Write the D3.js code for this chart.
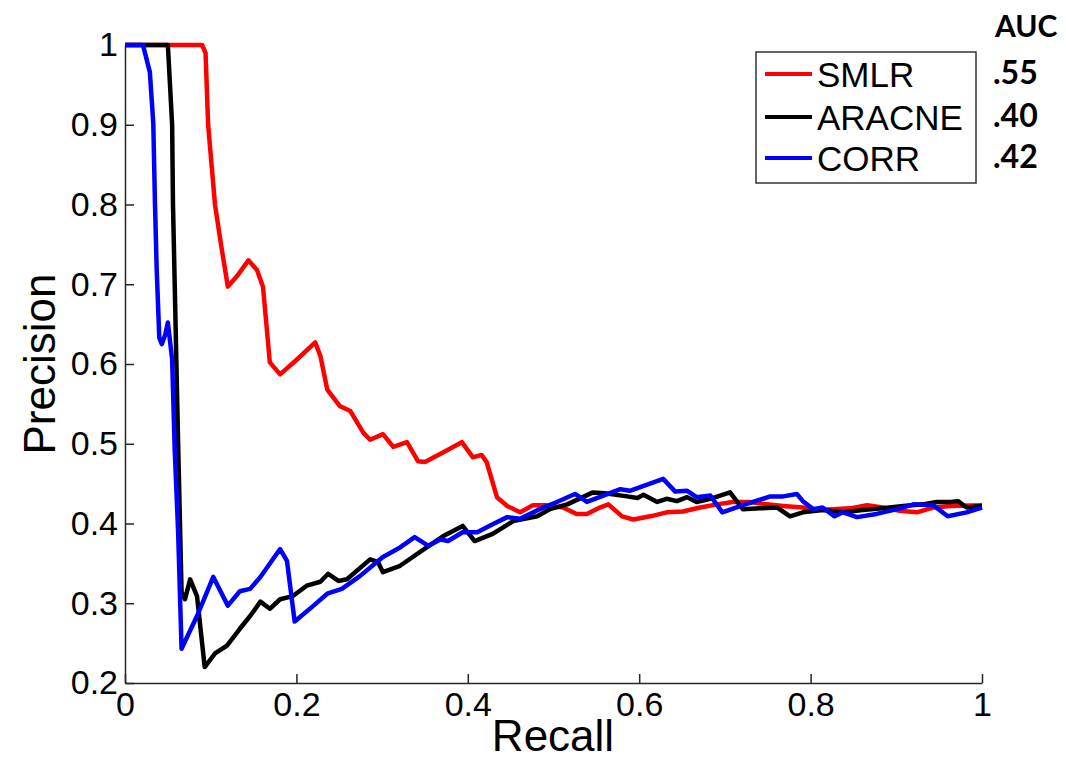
<!DOCTYPE html>
<html>
<head>
<meta charset="utf-8">
<script src="https://cdn.jsdelivr.net/npm/d3@7"></script>
<style>
  body { margin: 0; background: #fff; }
  svg { display: block; }
  .eixo text { font-family: "Liberation Sans", Arial, sans-serif; font-size: 34px; fill: #000; }
  .eixo path, .eixo line { stroke: #262626; stroke-width: 1.5; }
</style>
</head>
<body>
<svg width="1066" height="760"></svg>
<script>
// Curvas precision-recall
var smlrRecall = [0, 0.090, 0.094, 0.097, 0.105, 0.112, 0.120, 0.132, 0.144, 0.154, 0.161, 0.169, 0.181, 0.200, 0.222, 0.228, 0.236, 0.251, 0.263, 0.278, 0.286, 0.301, 0.313, 0.329, 0.342, 0.350, 0.371, 0.393, 0.406, 0.416, 0.422, 0.434, 0.446, 0.461, 0.476, 0.492, 0.511, 0.527, 0.539, 0.554, 0.564, 0.580, 0.593, 0.613, 0.632, 0.651, 0.671, 0.691, 0.709, 0.729, 0.749, 0.768, 0.791, 0.807, 0.826, 0.846, 0.866, 0.884, 0.904, 0.924, 0.943, 0.963, 1.0];
var smlrPrecision = [1, 1, 0.99, 0.90, 0.80, 0.75, 0.697, 0.712, 0.730, 0.718, 0.697, 0.602, 0.587, 0.605, 0.627, 0.610, 0.568, 0.547, 0.541, 0.514, 0.505, 0.512, 0.496, 0.502, 0.478, 0.477, 0.489, 0.502, 0.483, 0.486, 0.477, 0.433, 0.422, 0.414, 0.423, 0.423, 0.420, 0.412, 0.412, 0.420, 0.424, 0.409, 0.405, 0.409, 0.414, 0.415, 0.420, 0.424, 0.427, 0.427, 0.424, 0.422, 0.420, 0.417, 0.418, 0.419, 0.423, 0.420, 0.416, 0.414, 0.420, 0.422, 0.423];

var aracneRecall = [0, 0.050, 0.055, 0.056, 0.058, 0.062, 0.066, 0.070, 0.076, 0.084, 0.093, 0.105, 0.119, 0.134, 0.146, 0.158, 0.169, 0.181, 0.196, 0.212, 0.228, 0.237, 0.249, 0.259, 0.286, 0.295, 0.301, 0.321, 0.352, 0.371, 0.394, 0.408, 0.429, 0.453, 0.481, 0.496, 0.516, 0.546, 0.560, 0.586, 0.598, 0.605, 0.621, 0.632, 0.644, 0.656, 0.667, 0.683, 0.706, 0.721, 0.741, 0.761, 0.776, 0.791, 0.814, 0.838, 0.861, 0.884, 0.908, 0.931, 0.947, 0.963, 0.972, 0.982, 1.0];
var aracnePrecision = [1, 1, 0.90, 0.80, 0.70, 0.50, 0.314, 0.305, 0.330, 0.309, 0.220, 0.237, 0.247, 0.268, 0.284, 0.302, 0.293, 0.305, 0.309, 0.322, 0.327, 0.337, 0.328, 0.330, 0.355, 0.352, 0.339, 0.347, 0.370, 0.384, 0.397, 0.378, 0.387, 0.403, 0.409, 0.418, 0.424, 0.439, 0.438, 0.434, 0.432, 0.436, 0.427, 0.431, 0.428, 0.433, 0.427, 0.431, 0.439, 0.418, 0.419, 0.420, 0.409, 0.414, 0.417, 0.414, 0.417, 0.419, 0.422, 0.424, 0.427, 0.427, 0.428, 0.420, 0.422];

var corrRecall = [0, 0.021, 0.029, 0.033, 0.035, 0.037, 0.040, 0.043, 0.047, 0.050, 0.055, 0.058, 0.062, 0.066, 0.084, 0.103, 0.120, 0.134, 0.146, 0.158, 0.181, 0.189, 0.198, 0.220, 0.236, 0.253, 0.274, 0.301, 0.321, 0.338, 0.354, 0.368, 0.377, 0.394, 0.411, 0.429, 0.446, 0.461, 0.484, 0.504, 0.525, 0.539, 0.578, 0.589, 0.628, 0.642, 0.656, 0.667, 0.683, 0.697, 0.721, 0.753, 0.768, 0.784, 0.791, 0.803, 0.814, 0.828, 0.838, 0.854, 0.877, 0.901, 0.920, 0.943, 0.960, 0.982, 1.0];
var corrPrecision = [1, 1, 0.966, 0.902, 0.80, 0.718, 0.633, 0.625, 0.637, 0.652, 0.606, 0.493, 0.389, 0.243, 0.284, 0.333, 0.297, 0.315, 0.318, 0.333, 0.368, 0.353, 0.277, 0.297, 0.312, 0.318, 0.334, 0.358, 0.370, 0.383, 0.372, 0.380, 0.378, 0.389, 0.389, 0.399, 0.408, 0.406, 0.418, 0.427, 0.437, 0.427, 0.443, 0.441, 0.456, 0.440, 0.441, 0.433, 0.435, 0.414, 0.423, 0.434, 0.434, 0.437, 0.428, 0.418, 0.420, 0.409, 0.414, 0.408, 0.412, 0.418, 0.424, 0.423, 0.409, 0.414, 0.420];

var metodos = ["SMLR", "ARACNE", "CORR"];
var cores = ["#ff0000", "#000000", "#0000ff"];
var auc = [".55", ".40", ".42"];
var xTicks = [0, 0.2, 0.4, 0.6, 0.8, 1];
var xTickLabels = ["0", "0.2", "0.4", "0.6", "0.8", "1"];
var yTicks = [0.2, 0.3, 0.4, 0.5, 0.6, 0.7, 0.8, 0.9, 1];
var yTickLabels = ["0.2", "0.3", "0.4", "0.5", "0.6", "0.7", "0.8", "0.9", "1"];

var svg = d3.select("svg");

var x = d3.scaleLinear().domain([0, 1]).range([125, 982]),
    y = d3.scaleLinear().domain([0.2, 1]).range([683, 45]);

// Eixos com marcas para dentro, sem caixa (box off)
svg.append("g")
    .attr("class", "eixo")
    .attr("transform", "translate(0,683)")
    .call(d3.axisBottom(x)
      .tickValues(xTicks)
      .tickFormat(function(d, i){ return xTickLabels[i]; })
      .tickSizeInner(-9).tickSizeOuter(0).tickPadding(9));

svg.append("g")
    .attr("class", "eixo")
    .attr("transform", "translate(125,0)")
    .call(d3.axisLeft(y)
      .tickValues(yTicks)
      .tickFormat(function(d, i){ return yTickLabels[i]; })
      .tickSizeInner(-9).tickSizeOuter(0).tickPadding(7));

// Curvas: vermelho embaixo, azul por cima
var series = [
  d3.zip(smlrRecall, smlrPrecision),
  d3.zip(aracneRecall, aracnePrecision),
  d3.zip(corrRecall, corrPrecision)
];

var linha = d3.line()
    .x(function(d){ return x(d[0]); })
    .y(function(d){ return y(d[1]); });

svg.append("g")
  .selectAll("path")
  .data(series)
  .enter().append("path")
    .attr("d", linha)
    .attr("fill", "none")
    .attr("stroke", function(d, i){ return cores[i]; })
    .attr("stroke-width", 4.5)
    .attr("stroke-linejoin", "round");

// Títulos dos eixos
svg.append("text")
    .attr("x", 553).attr("y", 751)
    .attr("text-anchor", "middle")
    .style("font-family", "'Liberation Sans', Arial, sans-serif")
    .style("font-size", "44px")
    .text("Recall");

svg.append("text")
    .attr("transform", "translate(55,364) rotate(-90)")
    .attr("text-anchor", "middle")
    .style("font-family", "'Liberation Sans', Arial, sans-serif")
    .style("font-size", "44px")
    .text("Precision");

// Legenda
var legenda = svg.append("g");
legenda.append("rect")
    .attr("x", 756).attr("y", 52)
    .attr("width", 220).attr("height", 131)
    .attr("fill", "#fff")
    .attr("stroke", "#333")
    .attr("stroke-width", 1.5);

var linhasY = [74, 117, 158];
var itens = legenda.selectAll("g.item")
    .data(metodos)
    .enter().append("g")
      .attr("class", "item")
      .attr("transform", function(d, i){ return "translate(0," + linhasY[i] + ")"; });

itens.append("line")
    .attr("x1", 765).attr("x2", 812)
    .attr("stroke", function(d, i){ return cores[i]; })
    .attr("stroke-width", 4);

itens.append("text")
    .attr("x", 817).attr("y", 13)
    .style("font-family", "'Liberation Sans', Arial, sans-serif")
    .style("font-size", "35px")
    .text(function(d){ return d; });

// Valores de AUC
svg.append("text")
    .attr("x", 995).attr("y", 37)
    .style("font-family", "Lato, sans-serif")
    .style("font-weight", 700)
    .style("font-size", "30px")
    .text("AUC");

svg.append("g")
  .selectAll("text")
  .data(auc)
  .enter().append("text")
    .attr("x", 993)
    .attr("y", function(d, i){ return linhasY[i] + 10; })
    .style("font-family", "Lato, sans-serif")
    .style("font-weight", 700)
    .style("font-size", "32px")
    .text(function(d){ return d; });
</script>
</body>
</html>
